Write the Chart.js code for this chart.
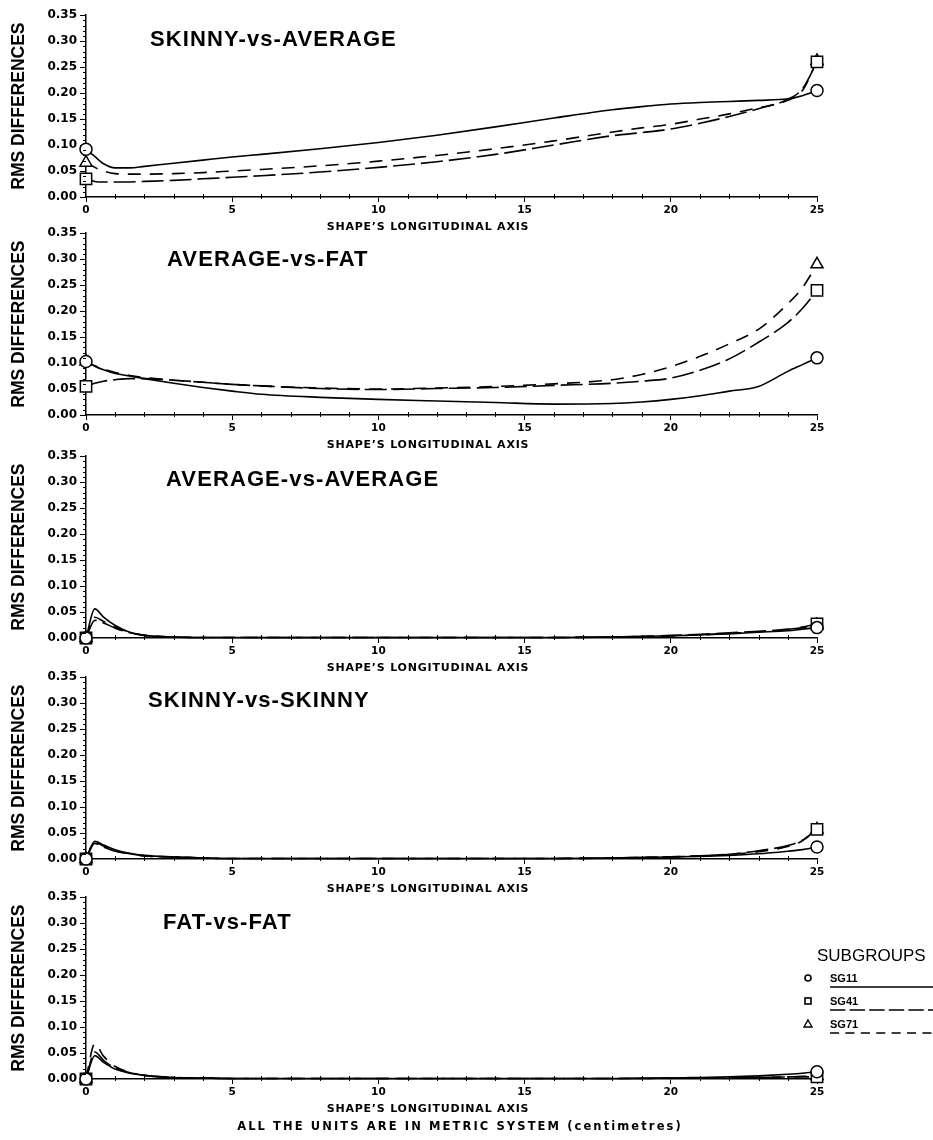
<!DOCTYPE html>
<html>
<head>
<meta charset="utf-8">
<script src="https://cdn.jsdelivr.net/npm/chart.js@4.4.0/dist/chart.umd.min.js"></script>
<style>
  body { margin: 0; background: #fff; }
  #page { position: relative; width: 933px; height: 1140px; overflow: hidden;
          font-family: "Liberation Sans", Arial, sans-serif; color: #000; }
  #page canvas { position: absolute; left: 0; }
  .ptitle { position: absolute; font-weight: bold; font-size: 22px; line-height: 22px;
            letter-spacing: 1.1px; white-space: nowrap; }
  .xtitle { position: absolute; width: 320px; text-align: center; font-family: "DejaVu Sans", sans-serif;
            font-weight: bold; font-size: 11px; line-height: 12px; letter-spacing: 0.8px; white-space: nowrap; }
  .note { position: absolute; left: 120px; width: 680px; top: 1120px; text-align: center;
          font-family: "DejaVu Sans", sans-serif; font-weight: bold; font-size: 11.5px; line-height: 12px;
          letter-spacing: 2.1px; white-space: nowrap; }
  #legend { position: absolute; left: 800px; top: 946px; width: 133px; }
  #legend .head { font-size: 17px; line-height: 20px; margin-left: 17px; }
  #legend svg { display: block; margin-top: 0; }
</style>
</head>
<body>
<div id="page"></div>

<script>
// sample positions along the shape (cm)
const xs = [0, 0.3, 0.6, 1, 1.5, 2, 3, 4, 5, 6, 8, 10, 12, 14, 16, 18, 19, 20, 21, 22, 23, 24, 24.5, 25];

const seriesLabels = ["SG11", "SG41", "SG71"];
const panelTitles = ["SKINNY-vs-AVERAGE", "AVERAGE-vs-FAT", "AVERAGE-vs-AVERAGE", "SKINNY-vs-SKINNY", "FAT-vs-FAT"];
const yTickValues = [0, 0.05, 0.10, 0.15, 0.20, 0.25, 0.30, 0.35];
const xTickValues = [0, 5, 10, 15, 20, 25];

// SKINNY-vs-AVERAGE
const skinnyAvgSG11 = [0.092, 0.078, 0.064, 0.056, 0.056, 0.059, 0.065, 0.071, 0.077, 0.082, 0.093, 0.105, 0.119, 0.135, 0.152, 0.168, 0.174, 0.179, 0.182, 0.184, 0.186, 0.189, 0.195, 0.205];
const skinnyAvgSG41 = [0.035, 0.030, 0.029, 0.029, 0.029, 0.030, 0.032, 0.035, 0.038, 0.041, 0.048, 0.057, 0.068, 0.082, 0.100, 0.118, 0.124, 0.131, 0.142, 0.155, 0.170, 0.188, 0.208, 0.260];
const skinnyAvgSG71 = [0.066, 0.057, 0.050, 0.045, 0.044, 0.044, 0.045, 0.047, 0.050, 0.053, 0.060, 0.069, 0.080, 0.093, 0.108, 0.125, 0.133, 0.140, 0.150, 0.160, 0.172, 0.186, 0.205, 0.262];

// AVERAGE-vs-FAT
const avgFatSG11 = [0.103, 0.094, 0.087, 0.080, 0.075, 0.070, 0.061, 0.053, 0.046, 0.040, 0.034, 0.030, 0.027, 0.024, 0.021, 0.022, 0.025, 0.030, 0.037, 0.046, 0.055, 0.084, 0.097, 0.110];
const avgFatSG41 = [0.055, 0.061, 0.065, 0.068, 0.070, 0.070, 0.067, 0.063, 0.059, 0.056, 0.051, 0.049, 0.051, 0.053, 0.057, 0.061, 0.065, 0.071, 0.086, 0.108, 0.140, 0.178, 0.205, 0.240];
const avgFatSG71 = [0.103, 0.095, 0.088, 0.082, 0.076, 0.072, 0.067, 0.063, 0.059, 0.056, 0.052, 0.050, 0.052, 0.055, 0.060, 0.068, 0.078, 0.093, 0.113, 0.137, 0.165, 0.214, 0.245, 0.290];

// AVERAGE-vs-AVERAGE
const avgAvgSG11 = [0, 0.056, 0.040, 0.024, 0.011, 0.005, 0.002, 0.001, 0.001, 0.001, 0.001, 0.001, 0.001, 0.001, 0.001, 0.002, 0.003, 0.004, 0.006, 0.008, 0.011, 0.014, 0.017, 0.020];
const avgAvgSG41 = [0, 0.034, 0.029, 0.019, 0.010, 0.005, 0.002, 0.001, 0.001, 0.001, 0.001, 0.001, 0.001, 0.001, 0.001, 0.002, 0.003, 0.005, 0.007, 0.010, 0.013, 0.017, 0.021, 0.027];
const avgAvgSG71 = [0, 0.040, 0.032, 0.021, 0.011, 0.005, 0.002, 0.001, 0.001, 0.001, 0.001, 0.001, 0.001, 0.001, 0.001, 0.002, 0.003, 0.004, 0.006, 0.009, 0.012, 0.016, 0.020, 0.025];

// SKINNY-vs-SKINNY
const skinnySkinnySG11 = [0, 0.034, 0.027, 0.018, 0.011, 0.007, 0.004, 0.002, 0.001, 0.001, 0.001, 0.001, 0.001, 0.001, 0.001, 0.002, 0.003, 0.004, 0.005, 0.007, 0.010, 0.015, 0.018, 0.023];
const skinnySkinnySG41 = [0, 0.030, 0.023, 0.015, 0.010, 0.006, 0.004, 0.002, 0.001, 0.001, 0.001, 0.001, 0.001, 0.001, 0.001, 0.002, 0.003, 0.004, 0.006, 0.009, 0.016, 0.026, 0.036, 0.057];
const skinnySkinnySG71 = [0, 0.032, 0.025, 0.016, 0.010, 0.006, 0.004, 0.002, 0.001, 0.001, 0.001, 0.001, 0.001, 0.001, 0.001, 0.002, 0.003, 0.004, 0.006, 0.009, 0.014, 0.024, 0.035, 0.057];

// FAT-vs-FAT
const fatFatSG11 = [0, 0.045, 0.032, 0.019, 0.011, 0.007, 0.003, 0.002, 0.001, 0.001, 0.001, 0.001, 0.001, 0.001, 0.001, 0.001, 0.002, 0.002, 0.003, 0.004, 0.006, 0.009, 0.011, 0.014];
const fatFatSG41 = [0, 0.052, 0.036, 0.021, 0.012, 0.007, 0.003, 0.002, 0.001, 0.001, 0.001, 0.001, 0.001, 0.001, 0.001, 0.001, 0.001, 0.002, 0.002, 0.002, 0.003, 0.004, 0.004, 0.004];
const fatFatSG71 = [0, 0.068, 0.044, 0.024, 0.013, 0.007, 0.003, 0.002, 0.001, 0.001, 0.001, 0.001, 0.001, 0.001, 0.001, 0.001, 0.001, 0.002, 0.002, 0.002, 0.003, 0.004, 0.005, 0.006];

const panelSeries = [
  [skinnyAvgSG11, skinnyAvgSG41, skinnyAvgSG71],
  [avgFatSG11, avgFatSG41, avgFatSG71],
  [avgAvgSG11, avgAvgSG41, avgAvgSG71],
  [skinnySkinnySG11, skinnySkinnySG41, skinnySkinnySG71],
  [fatFatSG11, fatFatSG41, fatFatSG71]
];

// line + end marker style per subgroup
const styles = [
  { dash: [], marker: "circle", r: 6 },
  { dash: [22, 6], marker: "rect", r: 8 },
  { dash: [13, 9], marker: "triangle", r: 7 }
];

// layout of the stacked panels
const plotTops = [15, 233, 456, 677, 897];
const plotH = 182;
const plotLeft = 86;
const plotRight = 817;
const padTop = 10;
const axisH = 40;
const titleLeft = [150, 167, 166, 148, 163];
const titleTop = [28, 248, 468, 689, 911];

const tickFont = { family: "DejaVu Sans", weight: "bold", size: 12 };

const page = document.getElementById("page");

// small ticks between the labelled ones
const minorTicks = {
  id: "minorTicks",
  afterDraw(chart) {
    const { ctx, scales: { x, y } } = chart;
    ctx.save();
    ctx.strokeStyle = "#000";
    ctx.lineWidth = 1;
    ctx.beginPath();
    for (let v = 1; v < 25; v++) {
      if (v % 5 === 0) continue;
      const px = Math.round(x.getPixelForValue(v)) + 0.5;
      ctx.moveTo(px, x.top - 3);
      ctx.lineTo(px, x.top + 2);
    }
    for (let k = 1; k < 35; k++) {
      if (k % 5 === 0) continue;
      const py = Math.round(y.getPixelForValue(k / 100)) + 0.5;
      ctx.moveTo(y.right - 3, py);
      ctx.lineTo(y.right, py);
    }
    ctx.stroke();
    ctx.restore();
  }
};

function makeDataset(label, values, st) {
  const last = xs.length - 1;
  return {
    label: label,
    data: xs.map((x, i) => ({ x: x, y: values[i] })),
    borderColor: "#000",
    borderWidth: 1.6,
    borderDash: st.dash,
    cubicInterpolationMode: "monotone",
    fill: false,
    clip: false,
    pointStyle: st.marker,
    pointRadius: (c) => (c.dataIndex === 0 || c.dataIndex === last ? st.r : 0),
    pointBorderColor: "#000",
    pointBackgroundColor: "#fff",
    pointBorderWidth: 1.5
  };
}

panelTitles.forEach((name, p) => {
  const canvas = document.createElement("canvas");
  canvas.width = 933;
  canvas.height = padTop + plotH + axisH;
  canvas.style.top = (plotTops[p] - padTop) + "px";
  page.appendChild(canvas);

  new Chart(canvas, {
    type: "line",
    data: {
      datasets: panelSeries[p].map((vals, i) => makeDataset(seriesLabels[i], vals, styles[i]))
    },
    options: {
      responsive: false,
      animation: false,
      events: [],
      layout: { padding: { left: 0, top: padTop, right: 933 - plotRight, bottom: 0 } },
      plugins: { legend: { display: false }, tooltip: { enabled: false } },
      scales: {
        x: {
          type: "linear",
          min: 0,
          max: 25,
          afterBuildTicks: (s) => { s.ticks = xTickValues.map((v) => ({ value: v })); },
          afterFit: (s) => { s.height = axisH; },
          ticks: { color: "#000", padding: 2, font: { family: "DejaVu Sans", weight: "bold", size: 10.5 } },
          grid: { drawOnChartArea: false, color: "#000", tickLength: 5, lineWidth: 1 },
          border: { color: "#000", width: 1.5 }
        },
        y: {
          min: 0,
          max: 0.35,
          afterBuildTicks: (s) => { s.ticks = yTickValues.map((v) => ({ value: v })); },
          afterFit: (s) => { s.width = plotLeft; },
          ticks: {
            color: "#000",
            padding: 3,
            font: tickFont,
            callback: (v) => v.toFixed(2)
          },
          grid: { drawOnChartArea: false, color: "#000", tickLength: 6, lineWidth: 1 },
          border: { color: "#000", width: 1.5 },
          title: {
            display: true,
            text: "RMS DIFFERENCES",
            color: "#000",
            padding: { top: 9, bottom: 0 },
            font: { family: "Liberation Sans", weight: "bold", size: 17.5 }
          }
        }
      }
    },
    plugins: [minorTicks]
  });

  const t = document.createElement("div");
  t.className = "ptitle";
  t.textContent = name;
  t.style.left = titleLeft[p] + "px";
  t.style.top = titleTop[p] + "px";
  page.appendChild(t);

  const xt = document.createElement("div");
  xt.className = "xtitle";
  xt.textContent = "SHAPE\u2019S LONGITUDINAL AXIS";
  xt.style.left = (428 - 160) + "px";
  xt.style.top = (plotTops[p] + plotH + 24) + "px";
  page.appendChild(xt);
});

const note = document.createElement("div");
note.className = "note";
note.textContent = "ALL THE UNITS ARE IN METRIC SYSTEM (centimetres)";
page.appendChild(note);

// subgroup key: marker, name and a sample of each line style
const legend = document.createElement("div");
legend.id = "legend";
let svg = '<div class="head">SUBGROUPS</div><svg width="133" height="80" xmlns="http://www.w3.org/2000/svg">';
seriesLabels.forEach((lab, i) => {
  const cy = 12 + i * 23;
  const dash = styles[i].dash.length ? ' stroke-dasharray="' + styles[i].dash.map((d) => d * 0.7).join(" ") + '"' : "";
  if (styles[i].marker === "circle") svg += '<circle cx="8" cy="' + cy + '" r="3" fill="none" stroke="#000" stroke-width="1.6"/>';
  if (styles[i].marker === "rect") svg += '<rect x="5" y="' + (cy - 3) + '" width="6" height="6" fill="none" stroke="#000" stroke-width="1.6"/>';
  if (styles[i].marker === "triangle") svg += '<polygon points="8,' + (cy - 4) + ' 12,' + (cy + 3) + ' 4,' + (cy + 3) + '" fill="none" stroke="#000" stroke-width="1.4"/>';
  svg += '<text x="30" y="' + (cy + 4) + '" font-family="Liberation Sans" font-weight="bold" font-size="11">' + lab + '</text>';
  svg += '<line x1="30" y1="' + (cy + 9) + '" x2="133" y2="' + (cy + 9) + '" stroke="#000" stroke-width="1.5"' + dash + '/>';
});
svg += "</svg>";
legend.innerHTML = svg;
page.appendChild(legend);
</script>
</body>
</html>
